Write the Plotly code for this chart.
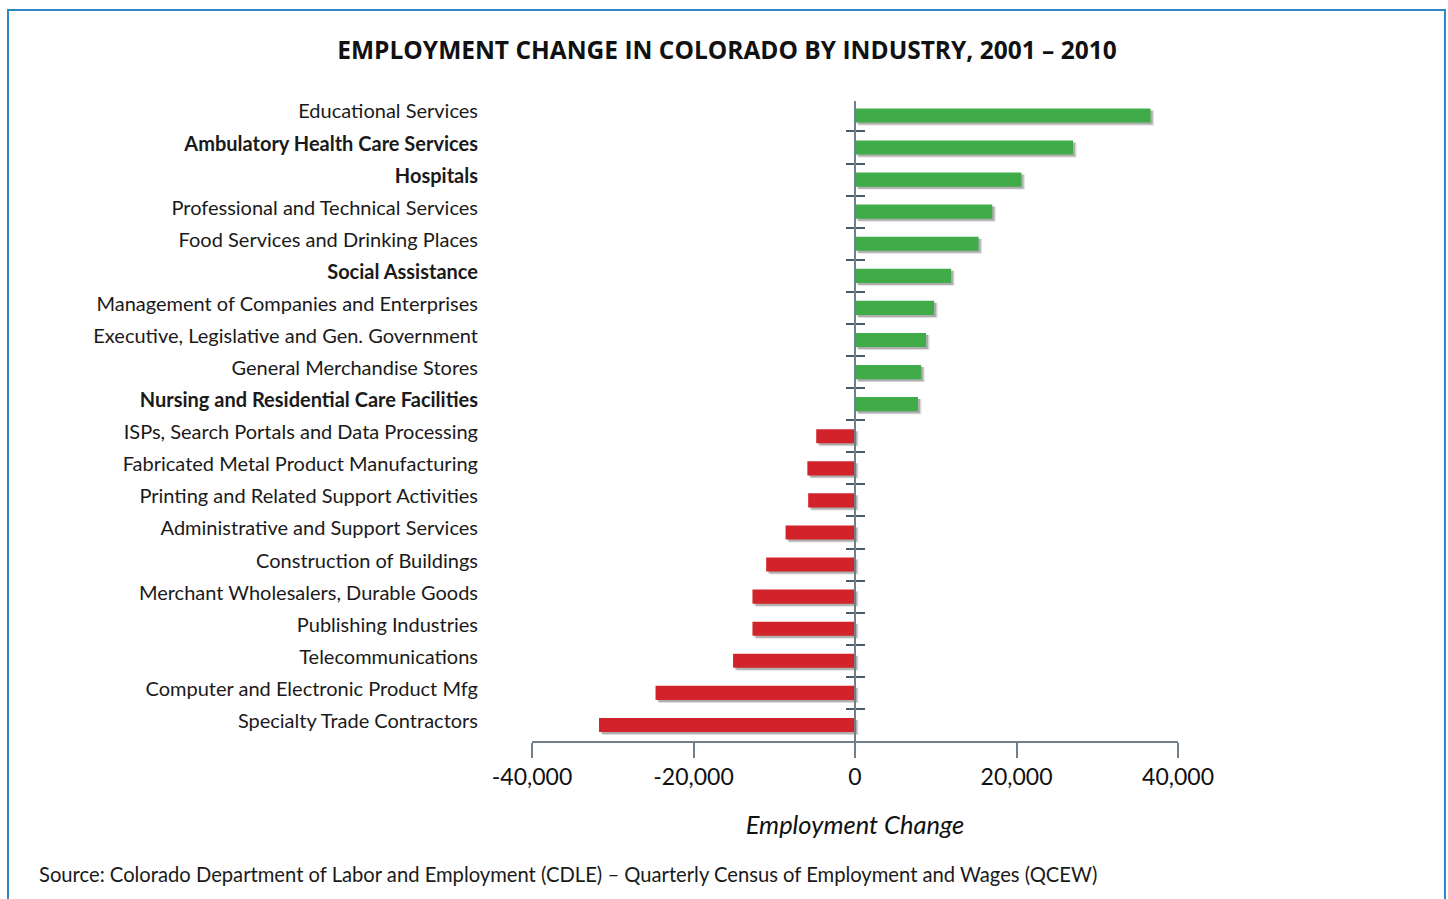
import plotly.graph_objects as go

categories = [
    "Educational Services",
    "Ambulatory Health Care Services",
    "Hospitals",
    "Professional and Technical Services",
    "Food Services and Drinking Places",
    "Social Assistance",
    "Management of Companies and Enterprises",
    "Executive, Legislative and Gen. Government",
    "General Merchandise Stores",
    "Nursing and Residential Care Facilities",
    "ISPs, Search Portals and Data Processing",
    "Fabricated Metal Product Manufacturing",
    "Printing and Related Support Activities",
    "Administrative and Support Services",
    "Construction of Buildings",
    "Merchant Wholesalers, Durable Goods",
    "Publishing Industries",
    "Telecommunications",
    "Computer and Electronic Product Mfg",
    "Specialty Trade Contractors",
]
bold_categories = [
    "Ambulatory Health Care Services",
    "Hospitals",
    "Social Assistance",
    "Nursing and Residential Care Facilities",
]
employment_change = [
    36600, 27000, 20600, 17000, 15300, 11900, 9800, 8800, 8200, 7800,
    -4800, -5900, -5800, -8600, -11000, -12700, -12700, -15100, -24700, -31700,
]
x_tick_values = [-40000, -20000, 0, 20000, 40000]
x_tick_labels = ["-40,000", "-20,000", "0", "20,000", "40,000"]

title_text = "EMPLOYMENT CHANGE IN COLORADO BY INDUSTRY, 2001 \u2013 2010"
x_title = "Employment Change"
source_text = ("Source: Colorado Department of Labor and Employment (CDLE) \u2013 "
               "Quarterly Census of Employment and Wages (QCEW)")

GREEN = "#3fac49"
RED = "#d2232a"
AXIS = "#6f7f8b"
TICK = "#4b5b67"
FONT = "Lato"

W, H = 1448, 899
L, R, T, B = 532, 270, 101, 158
pw, ph = W - L - R, H - T - B

n = len(categories)
yrange = [n - 0.5, -0.45]
unit_px = ph / (yrange[0] - yrange[1])
bar_w = 0.44
colors = [GREEN if v >= 0 else RED for v in employment_change]
ticktext = [f"<b>{c}</b>" if c in bold_categories else c for c in categories]

fig = go.Figure()

# soft shadow (two layers) under bars
shift_units = 3.5 * 80000 / pw
fig.add_trace(go.Bar(
    x=employment_change, y=categories, orientation="h",
    base=[shift_units] * n, width=bar_w + 0.03,
    offset=-(bar_w) / 2 + 2.0 / unit_px,
    marker=dict(color="rgba(0,0,0,0.13)", line=dict(width=0)),
    yaxis="y", hoverinfo="skip", showlegend=False,
))
fig.add_trace(go.Bar(
    x=employment_change, y=categories, orientation="h",
    base=[shift_units * 0.6] * n, width=bar_w,
    offset=-(bar_w) / 2 + 2.0 / unit_px,
    marker=dict(color="rgba(0,0,0,0.22)", line=dict(width=0)),
    yaxis="y", hoverinfo="skip", showlegend=False,
))

# main bars
fig.add_trace(go.Bar(
    x=employment_change, y=categories, orientation="h",
    width=bar_w, offset=-bar_w / 2,
    marker=dict(color=colors, line=dict(width=0)),
    yaxis="y2", showlegend=False,
))
# invisible carrier for right-side ticks
fig.add_trace(go.Scatter(
    x=[0] * n, y=categories, mode="markers",
    marker=dict(opacity=0), yaxis="y3", hoverinfo="skip", showlegend=False,
))

common_y = dict(
    type="category", categoryorder="array", categoryarray=categories,
    range=yrange, showgrid=False, zeroline=False, fixedrange=True,
)

fig.update_layout(
    width=W, height=H,
    margin=dict(l=L, r=R, t=T, b=B, autoexpand=False),
    paper_bgcolor="white", plot_bgcolor="white",
    barmode="overlay",
    font=dict(family=FONT, color="#1a1a1a"),
    title=dict(
        text=f"<b>{title_text}</b>", x=727 / W, xref="container",
        xanchor="center", y=1 - 50 / H, yanchor="middle",
        font=dict(family="Open Sans", size=24.5, color="#111111"),
    ),
    xaxis=dict(
        range=[-40000, 40000], domain=[0, 1],
        tickmode="array", tickvals=x_tick_values, ticktext=x_tick_labels,
        tickfont=dict(family=FONT, size=23, color="#111111"),
        ticks="outside", ticklen=15, tickwidth=1.5, tickcolor=AXIS,
        showline=True, linecolor=AXIS, linewidth=1.5,
        showgrid=False, zeroline=False, fixedrange=True,
        title=dict(text=f"<i>{x_title}</i>", standoff=27,
                   font=dict(family=FONT, size=25.5, color="#111111")),
    ),
    yaxis=dict(
        **common_y,
        tickmode="array", tickvals=categories, ticktext=ticktext,
        tickfont=dict(family=FONT, size=20, color="#1a1a1a"),
        ticks="", ticklabelstandoff=L - 479, ticklabelshift=4, showline=False,
    ),
    yaxis2=dict(
        **common_y,
        overlaying="y", anchor="free", position=0.5, side="left",
        showticklabels=False, ticks="outside", tickson="boundaries",
        ticklen=8, tickwidth=1.5, tickcolor=TICK,
        showline=True, linecolor=AXIS, linewidth=2,
    ),
    yaxis3=dict(
        **common_y,
        overlaying="y", anchor="free", position=0.5, side="right",
        showticklabels=False, ticks="outside", tickson="boundaries",
        ticklen=9, tickwidth=1.5, tickcolor=TICK,
        showline=False,
    ),
)

# source note
fig.add_annotation(
    text=source_text, xref="paper", yref="paper",
    x=(37 - L) / pw, y=(T + ph - 874) / ph, xanchor="left", yanchor="middle",
    showarrow=False, font=dict(family=FONT, size=20.2, color="#1a1a1a"),
)

# outer frame
fig.add_shape(
    type="rect", xref="paper", yref="paper",
    x0=(8 - L) / pw, x1=(1445 - L) / pw,
    y0=(T + ph - 910) / ph, y1=(T + ph - 10) / ph,
    line=dict(color="#2f86c6", width=2), fillcolor="rgba(0,0,0,0)", layer="below",
)

fig.write_html("out.html")
